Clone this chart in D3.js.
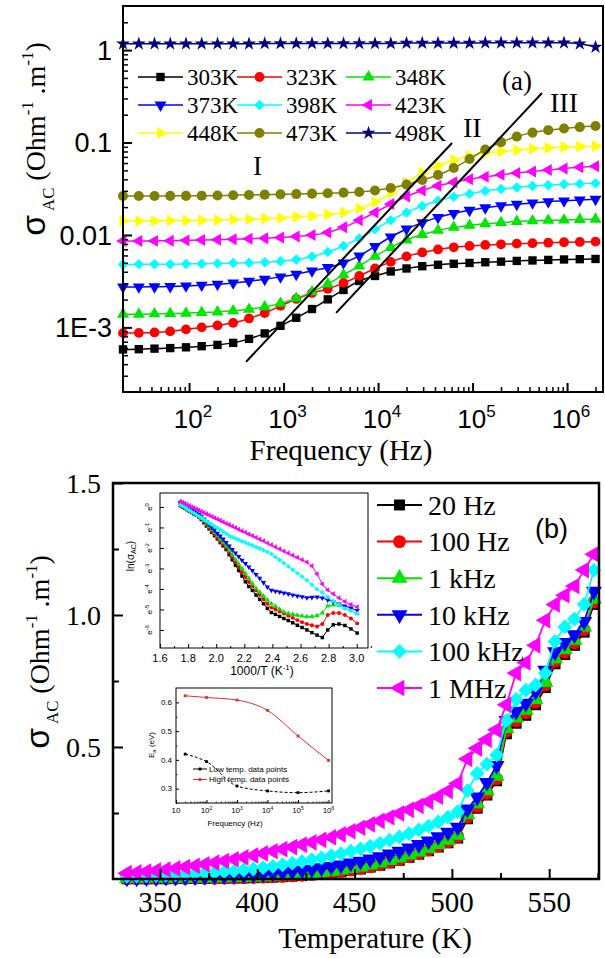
<!DOCTYPE html>
<html>
<head>
	<meta charset="utf-8">
	<title>sigma AC</title>
	<script src="https://d3js.org/d3.v7.min.js"></script>
	<style>
		body { margin: 0; background: #fff; }
		svg { display: block; }
	</style>
</head>
<body>
	<div class="chart"></div>
	<script type="text/javascript">

		/**
		 * (a) sigma_AC against frequency, nine temperatures
		 */
		var freqHz = [20, 29.4, 43.1, 63.2, 92.8, 136, 200, 293, 431, 632, 928, 1362, 2000, 2936, 4309, 6325, 9283, 13627, 20000, 29356, 43088, 63246, 92832, 136260, 200000, 293560, 430887, 632456, 928318, 1362600, 2000000]
		var tempNames = ['303K', '323K', '348K', '373K', '398K', '423K', '448K', '473K', '498K']
		var s303 = [5.78e-4, 5.81e-4, 5.89e-4, 5.97e-4, 6.09e-4, 6.26e-4, 6.47e-4, 6.80e-4, 7.51e-4, 8.61e-4, 1.04e-3, 1.27e-3, 1.58e-3, 2.01e-3, 2.54e-3, 3.18e-3, 3.60e-3, 4.03e-3, 4.34e-3, 4.59e-3, 4.76e-3, 4.88e-3, 4.98e-3, 5.07e-3, 5.14e-3, 5.24e-3, 5.30e-3, 5.37e-3, 5.43e-3, 5.47e-3, 5.50e-3]
		var s323 = [8.66e-4, 8.72e-4, 8.81e-4, 9.05e-4, 9.51e-4, 1.00e-3, 1.05e-3, 1.12e-3, 1.25e-3, 1.43e-3, 1.71e-3, 2.03e-3, 2.36e-3, 2.61e-3, 3.03e-3, 3.60e-3, 4.34e-3, 5.11e-3, 5.86e-3, 6.47e-3, 6.97e-3, 7.36e-3, 7.60e-3, 7.80e-3, 7.93e-3, 8.05e-3, 8.15e-3, 8.25e-3, 8.34e-3, 8.40e-3, 8.47e-3]
		var s348 = [1.39e-3, 1.39e-3, 1.40e-3, 1.41e-3, 1.42e-3, 1.45e-3, 1.47e-3, 1.51e-3, 1.57e-3, 1.67e-3, 1.82e-3, 2.06e-3, 2.42e-3, 2.95e-3, 3.70e-3, 4.62e-3, 5.86e-3, 7.33e-3, 8.83e-3, 1.01e-2, 1.12e-2, 1.21e-2, 1.27e-2, 1.32e-2, 1.36e-2, 1.40e-2, 1.42e-2, 1.44e-2, 1.45e-2, 1.47e-2, 1.48e-2]
		var s373 = [2.74e-3, 2.74e-3, 2.75e-3, 2.77e-3, 2.81e-3, 2.86e-3, 2.93e-3, 3.03e-3, 3.16e-3, 3.32e-3, 3.52e-3, 3.76e-3, 4.08e-3, 4.45e-3, 4.98e-3, 5.93e-3, 7.51e-3, 9.51e-3, 1.16e-2, 1.36e-2, 1.55e-2, 1.71e-2, 1.85e-2, 1.97e-2, 2.07e-2, 2.15e-2, 2.22e-2, 2.29e-2, 2.34e-2, 2.39e-2, 2.43e-2]
		var s398 = [4.80e-3, 4.81e-3, 4.82e-3, 4.83e-3, 4.86e-3, 4.88e-3, 4.92e-3, 4.96e-3, 5.00e-3, 5.08e-3, 5.21e-3, 5.43e-3, 5.86e-3, 6.55e-3, 7.60e-3, 9.17e-3, 1.15e-2, 1.44e-2, 1.75e-2, 2.06e-2, 2.34e-2, 2.59e-2, 2.80e-2, 2.99e-2, 3.14e-2, 3.27e-2, 3.38e-2, 3.46e-2, 3.53e-2, 3.59e-2, 3.62e-2]
		var s423 = [8.61e-3, 8.61e-3, 8.63e-3, 8.67e-3, 8.74e-3, 8.81e-3, 8.89e-3, 8.98e-3, 9.10e-3, 9.23e-3, 9.40e-3, 9.64e-3, 1.00e-2, 1.06e-2, 1.21e-2, 1.44e-2, 1.75e-2, 2.16e-2, 2.61e-2, 3.03e-2, 3.40e-2, 3.72e-2, 4.01e-2, 4.26e-2, 4.49e-2, 4.68e-2, 4.86e-2, 5.04e-2, 5.24e-2, 5.39e-2, 5.53e-2]
		var s448 = [1.42e-2, 1.42e-2, 1.42e-2, 1.43e-2, 1.43e-2, 1.44e-2, 1.45e-2, 1.47e-2, 1.48e-2, 1.51e-2, 1.53e-2, 1.57e-2, 1.60e-2, 1.67e-2, 1.75e-2, 1.93e-2, 2.27e-2, 2.85e-2, 3.70e-2, 4.68e-2, 5.64e-2, 6.47e-2, 7.14e-2, 7.64e-2, 7.99e-2, 8.30e-2, 8.55e-2, 8.77e-2, 8.94e-2, 9.08e-2, 9.17e-2]
		var s473 = [2.64e-2, 2.64e-2, 2.64e-2, 2.65e-2, 2.65e-2, 2.66e-2, 2.67e-2, 2.69e-2, 2.71e-2, 2.73e-2, 2.75e-2, 2.77e-2, 2.80e-2, 2.83e-2, 2.87e-2, 2.92e-2, 3.03e-2, 3.22e-2, 3.51e-2, 3.93e-2, 4.45e-2, 5.30e-2, 6.64e-2, 8.40e-2, 0.101, 0.116, 0.128, 0.136, 0.142, 0.147, 0.151]
		var s498 = [1.17, 1.17, 1.17, 1.17, 1.17, 1.17, 1.17, 1.17, 1.17, 1.18, 1.18, 1.18, 1.18, 1.18, 1.18, 1.18, 1.18, 1.18, 1.19, 1.19, 1.19, 1.19, 1.19, 1.20, 1.20, 1.20, 1.20, 1.20, 1.20, 1.17, 1.08]
		// the two slope guides, end points in (Hz, sigma)
		var guideI = [[401, 4.24e-4], [60700, 0.0988]]
		var guideII = [[3600, 1.435e-3], [543000, 0.343]]
		var yTicksA = [1e-3, 1e-2, 0.1, 1]
		var yTickLabelsA = ['1E-3', '0.01', '0.1', '1']
		var xTicksA = [1e2, 1e3, 1e4, 1e5, 1e6]

		/**
		 * (b) sigma_AC against temperature, six frequencies
		 */
		var tempK = [333, 338, 343, 348, 353, 358, 363, 368, 373, 378, 383, 388, 393, 398, 403, 408, 413, 418, 423, 428, 433, 438, 443, 448, 453, 458, 463, 468, 473, 478, 483, 488, 493, 498, 503, 508, 513, 518, 523, 528, 533, 538, 543, 548, 553, 558, 563, 568, 573]
		var freqNames = ['20 Hz', '100 Hz', '1 kHz', '10 kHz', '100 kHz', '1 MHz']
		var f20 = [0.001, 0.001, 0.001, 0.001, 0.001, 0.002, 0.002, 0.002, 0.002, 0.003, 0.003, 0.004, 0.004, 0.005, 0.006, 0.007, 0.009, 0.011, 0.013, 0.016, 0.019, 0.023, 0.027, 0.032, 0.038, 0.045, 0.052, 0.061, 0.071, 0.082, 0.094, 0.107, 0.121, 0.137, 0.155, 0.228, 0.268, 0.318, 0.372, 0.55, 0.59, 0.62, 0.66, 0.725, 0.815, 0.85, 0.885, 0.935, 1.04]
		var f100 = [0.001, 0.001, 0.001, 0.002, 0.002, 0.002, 0.002, 0.003, 0.003, 0.003, 0.004, 0.004, 0.005, 0.006, 0.007, 0.008, 0.010, 0.012, 0.014, 0.017, 0.020, 0.024, 0.029, 0.034, 0.040, 0.047, 0.055, 0.064, 0.074, 0.085, 0.097, 0.110, 0.125, 0.141, 0.160, 0.235, 0.275, 0.325, 0.38, 0.56, 0.60, 0.63, 0.67, 0.735, 0.825, 0.86, 0.895, 0.945, 1.05]
		var f1k = [0.002, 0.002, 0.002, 0.003, 0.003, 0.003, 0.003, 0.004, 0.004, 0.005, 0.005, 0.006, 0.007, 0.008, 0.009, 0.011, 0.013, 0.015, 0.018, 0.021, 0.025, 0.029, 0.034, 0.040, 0.046, 0.053, 0.061, 0.070, 0.080, 0.091, 0.103, 0.116, 0.131, 0.147, 0.166, 0.245, 0.285, 0.335, 0.39, 0.57, 0.61, 0.64, 0.68, 0.745, 0.835, 0.87, 0.905, 0.955, 1.06]
		var f10k = [0.004, 0.004, 0.005, 0.005, 0.006, 0.006, 0.007, 0.008, 0.009, 0.010, 0.011, 0.013, 0.015, 0.017, 0.019, 0.022, 0.025, 0.029, 0.033, 0.037, 0.042, 0.047, 0.053, 0.060, 0.067, 0.075, 0.084, 0.094, 0.105, 0.117, 0.130, 0.144, 0.160, 0.177, 0.196, 0.265, 0.31, 0.365, 0.43, 0.60, 0.635, 0.665, 0.71, 0.79, 0.86, 0.895, 0.925, 0.975, 1.09]
		var f100k = [0.010, 0.011, 0.012, 0.013, 0.014, 0.016, 0.018, 0.020, 0.022, 0.024, 0.027, 0.030, 0.034, 0.038, 0.043, 0.048, 0.054, 0.060, 0.066, 0.073, 0.080, 0.088, 0.096, 0.105, 0.114, 0.124, 0.135, 0.147, 0.159, 0.172, 0.186, 0.200, 0.216, 0.234, 0.255, 0.335, 0.40, 0.435, 0.47, 0.60, 0.68, 0.715, 0.735, 0.78, 0.90, 0.955, 0.985, 1.04, 1.17]
		var f1M = [0.022, 0.025, 0.028, 0.032, 0.036, 0.040, 0.045, 0.050, 0.056, 0.062, 0.068, 0.075, 0.082, 0.089, 0.097, 0.105, 0.113, 0.121, 0.130, 0.139, 0.148, 0.158, 0.169, 0.181, 0.194, 0.207, 0.220, 0.234, 0.248, 0.262, 0.277, 0.293, 0.312, 0.333, 0.362, 0.455, 0.495, 0.528, 0.565, 0.66, 0.78, 0.82, 0.885, 0.98, 1.04, 1.075, 1.11, 1.17, 1.23]
		var xTicksB = [350, 400, 450, 500, 550]
		var yTicksB = [0.5, 1.0, 1.5]
		var yTickLabelsB = ['0.5', '1.0', '1.5']

		// upper inset: ln(sigma_AC) against 1000/T, same temperatures as tempK
		var ln20 = [-6.15, -5.95, -5.78, -5.71, -5.75, -6.00, -6.37, -6.25, -6.13, -6.00, -5.88, -5.77, -5.65, -5.54, -5.44, -5.34, -5.24, -5.15, -4.95, -4.72, -4.51, -4.30, -4.07, -3.88, -3.65, -3.37, -3.10, -2.84, -2.58, -2.33, -2.08, -1.90, -1.74, -1.56, -1.40, -1.24, -1.07, -0.93, -0.77, -0.61, -0.49, -0.41, -0.34, -0.27, -0.20, -0.13, -0.06, 0.00, 0.06]
		var ln100 = [-5.68, -5.44, -5.27, -5.17, -5.17, -5.27, -5.71, -5.83, -5.77, -5.71, -5.62, -5.52, -5.41, -5.31, -5.20, -5.10, -5.00, -4.91, -4.72, -4.50, -4.28, -4.07, -3.86, -3.66, -3.42, -3.17, -2.93, -2.68, -2.44, -2.21, -1.98, -1.82, -1.66, -1.49, -1.33, -1.18, -1.01, -0.87, -0.72, -0.57, -0.44, -0.38, -0.31, -0.24, -0.17, -0.11, -0.04, 0.01, 0.07]
		var ln1k = [-5.20, -5.05, -4.93, -4.80, -4.78, -4.83, -5.17, -5.30, -5.34, -5.36, -5.32, -5.28, -5.24, -5.20, -5.12, -4.99, -4.85, -4.72, -4.54, -4.34, -4.16, -3.98, -3.74, -3.48, -3.24, -3.00, -2.78, -2.56, -2.33, -2.12, -1.90, -1.73, -1.57, -1.40, -1.25, -1.10, -0.95, -0.81, -0.66, -0.51, -0.39, -0.32, -0.25, -0.18, -0.12, -0.05, 0.01, 0.06, 0.12]
		var ln10k = [-5.05, -4.93, -4.83, -4.73, -4.63, -4.54, -4.44, -4.39, -4.41, -4.43, -4.38, -4.34, -4.29, -4.24, -4.20, -4.15, -4.11, -4.06, -3.90, -3.69, -3.48, -3.29, -3.10, -2.93, -2.76, -2.60, -2.42, -2.25, -2.08, -1.90, -1.73, -1.57, -1.42, -1.28, -1.13, -1.00, -0.85, -0.72, -0.59, -0.46, -0.37, -0.30, -0.23, -0.17, -0.10, -0.04, 0.03, 0.09, 0.15]
		var ln100k = [-5.20, -5.07, -4.95, -4.77, -4.59, -4.39, -4.17, -4.01, -3.80, -3.58, -3.40, -3.23, -3.06, -2.90, -2.74, -2.59, -2.44, -2.29, -2.19, -2.11, -2.03, -1.96, -1.88, -1.81, -1.74, -1.67, -1.61, -1.54, -1.48, -1.40, -1.30, -1.21, -1.12, -1.03, -0.95, -0.86, -0.78, -0.70, -0.61, -0.53, -0.45, -0.38, -0.30, -0.23, -0.16, -0.09, -0.01, 0.05, 0.11]
		var ln1M = [-4.88, -4.76, -4.61, -4.44, -4.24, -4.05, -3.76, -3.27, -2.88, -2.69, -2.58, -2.46, -2.36, -2.25, -2.15, -2.05, -1.95, -1.85, -1.76, -1.66, -1.58, -1.49, -1.40, -1.33, -1.24, -1.17, -1.09, -1.01, -0.94, -0.86, -0.80, -0.73, -0.66, -0.59, -0.53, -0.46, -0.40, -0.34, -0.28, -0.22, -0.16, -0.11, -0.05, 0.00, 0.06, 0.11, 0.17, 0.22, 0.27]
		var invTTicks = [1.6, 1.8, 2.0, 2.2, 2.4, 2.6, 2.8, 3.0]
		var lnTicks = [0, -1, -2, -3, -4, -5, -6]

		// lower inset: activation energy against frequency
		var eaFreq = [20, 100, 1000, 10000, 100000, 1000000]
		var eaLow = [0.42, 0.394, 0.309, 0.292, 0.286, 0.292]
		var eaHigh = [0.623, 0.617, 0.608, 0.572, 0.483, 0.398]
		var eaNames = ['Low temp. data points', 'High temp. data points']
		var eaYTicks = [0.3, 0.4, 0.5, 0.6]

		/**
		 * canvas and helpers
		 */
		var width = 605
		var height = 958
		var serif = '"Liberation Serif", "Times New Roman", serif'
		var sans = '"Liberation Sans", Arial, sans-serif'

		var svg = d3
			.select('.chart')
			.append('svg')
			.attr('width', width)
			.attr('height', height)
			.style('background-color', '#fff')

		var symbolTypes = { square: d3.symbolSquare, circle: d3.symbolCircle, up: d3.symbolTriangle, down: d3.symbolTriangle, left: d3.symbolTriangle, right: d3.symbolTriangle, diamond: d3.symbolSquare, star: d3.symbolStar }
		var symbolTurn = { square: 0, circle: 0, up: 0, down: 180, left: -90, right: 90, diamond: 45, star: 0 }

		function drawMarkers(g, pts, kind, size, color) {
			var p = d3.symbol().type(symbolTypes[kind]).size(size)()
			g.selectAll(null)
				.data(pts)
				.enter()
				.append('path')
				.attr('d', p)
				.attr('fill', color)
				.attr('transform', (d) => `translate(${d[0]},${d[1]}) rotate(${symbolTurn[kind]})`)
		}

		function tickAxis(g, axis, transform, w) {
			g.append('g')
				.attr('transform', transform)
				.call(axis)
				.call((s) => s.select('.domain').remove())
				.call((s) => s.selectAll('text').remove())
				.call((s) => s.selectAll('line').attr('stroke', '#000').attr('stroke-width', w))
		}

		function logMinors(lo, hi) {
			var out = []
			for (var k = -5; k <= 7; k++) {
				for (var m = 2; m <= 9; m++) {
					var v = m * Math.pow(10, k)
					if (v > lo * 1.0001 && v < hi * 0.9999) out.push(v)
				}
			}
			return out
		}

		function sigmaTitle(x, y, size) {
			var t = svg.append('text')
				.attr('transform', `translate(${x},${y}) rotate(-90)`)
				.attr('text-anchor', 'middle')
				.attr('font-family', serif)
				.attr('font-size', size)
			t.append('tspan').attr('font-family', sans).attr('font-size', size * 1.2).text('σ')
			t.append('tspan').attr('font-size', size * 0.6).attr('dx', 4).attr('dy', size * 0.32).text('AC')
			t.append('tspan').attr('dy', -size * 0.32).text(' (Ohm')
			t.append('tspan').attr('font-size', size * 0.6).attr('dy', -size * 0.42).text('-1')
			t.append('tspan').attr('dy', size * 0.42).text(' .m')
			t.append('tspan').attr('font-size', size * 0.6).attr('dy', -size * 0.42).text('-1')
			t.append('tspan').attr('dy', size * 0.42).text(')')
		}

		/**
		 * panel (a)
		 */
		var A = { left: 123, right: 603, top: 6, bottom: 392 }
		var xA = d3.scaleLog().domain([20, 2.4e6]).range([A.left, A.right])
		var yA = d3.scaleLog().domain([2e-4, 3]).range([A.bottom, A.top])
		var gA = svg.append('g')

		var seriesA = [s303, s323, s348, s373, s398, s423, s448, s473, s498]
		var colorsA = ['#000000', '#ff0000', '#00e600', '#0000ff', '#00ffff', '#ff00ff', '#ffff00', '#808000', '#000080']
		var markA = ['square', 'circle', 'up', 'down', 'diamond', 'left', 'right', 'circle', 'star']
		var sizeA = [70, 75, 62, 62, 55, 62, 62, 80, 60]

		var lineA = d3.line().curve(d3.curveMonotoneX).x((d) => xA(d[0])).y((d) => yA(d[1]))

		seriesA.forEach(function (vals, i) {
			var pts = d3.zip(freqHz, vals)
			gA.append('path')
				.attr('d', lineA(pts))
				.attr('fill', 'none')
				.attr('stroke', colorsA[i])
				.attr('stroke-width', 1.5)
			drawMarkers(gA, pts.map((p) => [xA(p[0]), yA(p[1])]), markA[i], sizeA[i], colorsA[i])
		})

		// slope guides
		var straight = d3.line().x((d) => xA(d[0])).y((d) => yA(d[1]))
		;[guideI, guideII].forEach(function (g) {
			gA.append('path').attr('d', straight(g)).attr('stroke', '#000').attr('stroke-width', 2).attr('fill', 'none')
		})

		// frame and ticks
		gA.append('rect')
			.attr('x', A.left).attr('y', A.top)
			.attr('width', A.right - A.left).attr('height', A.bottom - A.top)
			.attr('fill', 'none').attr('stroke', '#000').attr('stroke-width', 2)

		tickAxis(gA, d3.axisBottom(xA).tickValues(xTicksA).tickSize(-9), `translate(0,${A.bottom})`, 2)
		tickAxis(gA, d3.axisBottom(xA).tickValues(logMinors(20, 2.4e6).filter((v) => xTicksA.indexOf(v) < 0)).tickSize(-5), `translate(0,${A.bottom})`, 1.5)
		tickAxis(gA, d3.axisLeft(yA).tickValues(yTicksA).tickSize(-9), `translate(${A.left},0)`, 2)
		tickAxis(gA, d3.axisLeft(yA).tickValues(logMinors(2e-4, 3)).tickSize(-5), `translate(${A.left},0)`, 1.5)

		gA.selectAll(null)
			.data(yTicksA)
			.enter()
			.append('text')
			.attr('x', A.left - 11)
			.attr('y', (d) => yA(d))
			.attr('dy', '0.36em')
			.attr('text-anchor', 'end')
			.attr('font-family', sans)
			.attr('font-size', 27)
			.text((d, i) => yTickLabelsA[i])

		xTicksA.forEach(function (v) {
			var t = gA.append('text')
				.attr('x', xA(v) + 4)
				.attr('y', 428)
				.attr('text-anchor', 'middle')
				.attr('font-family', sans)
				.attr('font-size', 26)
			t.append('tspan').text('10')
			t.append('tspan').attr('font-size', 17).attr('dy', -11).text(Math.round(Math.log10(v)))
		})

		gA.append('text')
			.attr('x', 341).attr('y', 460)
			.attr('text-anchor', 'middle')
			.attr('font-family', serif).attr('font-size', 29)
			.text('Frequency (Hz)')

		sigmaTitle(45, 139, 28)

		// legend, three per row
		var legX = [138, 237, 346]
		var legY = [77, 105, 133]
		tempNames.forEach(function (name, i) {
			var cx = legX[i % 3]
			var cy = legY[Math.floor(i / 3)]
			gA.append('line').attr('x1', cx).attr('x2', cx + 45).attr('y1', cy).attr('y2', cy)
				.attr('stroke', colorsA[i]).attr('stroke-width', 1.5)
			drawMarkers(gA, [[cx + 22.5, cy]], markA[i], sizeA[i], colorsA[i])
			gA.append('text').attr('x', cx + 49).attr('y', cy).attr('dy', '0.35em')
				.attr('font-family', serif).attr('font-size', 23).text(name)
		})

		var notes = [['I', 253, 175, 27], ['II', 463, 137, 28], ['III', 550, 112, 28], ['(a)', 502, 90, 27]]
		notes.forEach(function (n) {
			gA.append('text').attr('x', n[1]).attr('y', n[2])
				.attr('font-family', serif).attr('font-size', n[3]).text(n[0])
		})

		/**
		 * panel (b)
		 */
		var B = { left: 113, right: 599, top: 483, bottom: 879 }
		var xB = d3.scaleLinear().domain([325.85, 575.6]).range([B.left, B.right])
		var yB = d3.scaleLinear().domain([0, 1.5]).range([B.bottom, B.top])
		var gB = svg.append('g')

		var seriesB = [f20, f100, f1k, f10k, f100k, f1M]
		var colorsB = ['#000000', '#ff0000', '#00e600', '#0000ff', '#00ffff', '#ff00ff']
		var markB = ['square', 'circle', 'up', 'down', 'diamond', 'left']
		var sizeB = [120, 130, 110, 110, 110, 120]

		var lineB = d3.line().x((d) => xB(d[0])).y((d) => yB(d[1]))
		seriesB.forEach(function (vals, i) {
			var pts = d3.zip(tempK, vals)
			gB.append('path').attr('d', lineB(pts)).attr('fill', 'none')
				.attr('stroke', colorsB[i]).attr('stroke-width', 1.8)
			drawMarkers(gB, pts.map((p) => [xB(p[0]), yB(p[1])]), markB[i], sizeB[i], colorsB[i])
		})

		gB.append('rect')
			.attr('x', B.left).attr('y', B.top)
			.attr('width', B.right - B.left).attr('height', B.bottom - B.top)
			.attr('fill', 'none').attr('stroke', '#000').attr('stroke-width', 2.5)

		tickAxis(gB, d3.axisBottom(xB).tickValues(xTicksB).tickSize(-10), `translate(0,${B.bottom})`, 2)
		tickAxis(gB, d3.axisBottom(xB).tickValues(xTicksB.map((v) => v + 25)).tickSize(-6), `translate(0,${B.bottom})`, 2)
		tickAxis(gB, d3.axisLeft(yB).tickValues(yTicksB).tickSize(-10), `translate(${B.left},0)`, 2)
		tickAxis(gB, d3.axisLeft(yB).tickValues(yTicksB.map((v) => v - 0.25)).tickSize(-6), `translate(${B.left},0)`, 2)

		gB.selectAll(null).data(xTicksB).enter().append('text')
			.attr('x', (d) => xB(d)).attr('y', 912)
			.attr('text-anchor', 'middle')
			.attr('font-family', serif).attr('font-size', 29)
			.text((d) => d)

		gB.selectAll(null).data(yTicksB).enter().append('text')
			.attr('x', B.left - 12).attr('y', (d) => yB(d)).attr('dy', '0.35em')
			.attr('text-anchor', 'end')
			.attr('font-family', serif).attr('font-size', 28)
			.text((d, i) => yTickLabelsB[i])

		gB.append('text')
			.attr('x', 375).attr('y', 948)
			.attr('text-anchor', 'middle')
			.attr('font-family', serif).attr('font-size', 29)
			.text('Temperature (K)')

		sigmaTitle(49, 652, 28)

		freqNames.forEach(function (name, i) {
			var cy = 505 + i * 36.6
			gB.append('line').attr('x1', 377).attr('x2', 422).attr('y1', cy).attr('y2', cy)
				.attr('stroke', colorsB[i]).attr('stroke-width', 2)
			drawMarkers(gB, [[399.5, cy]], markB[i], sizeB[i], colorsB[i])
			gB.append('text').attr('x', 428).attr('y', cy).attr('dy', '0.35em')
				.attr('font-family', serif).attr('font-size', 28).text(name)
		})

		gB.append('text').attr('x', 535).attr('y', 538)
			.attr('font-family', sans).attr('font-size', 27).text('(b)')

		/**
		 * upper inset: ln(sigma) vs 1000/T
		 */
		var I1 = { left: 160, right: 368, top: 493, bottom: 648 }
		var xI = d3.scaleLinear().domain([1.6, 3.08]).range([I1.left, I1.right])
		var yI = d3.scaleLinear().domain([-6.88, 0.68]).range([I1.bottom, I1.top])
		var gI = svg.append('g')

		gI.append('rect')
			.attr('x', I1.left).attr('y', I1.top)
			.attr('width', I1.right - I1.left).attr('height', I1.bottom - I1.top)
			.attr('fill', '#fff').attr('stroke', 'none')

		var lnSeries = [ln20, ln100, ln1k, ln10k, ln100k, ln1M]
		var lineI = d3.line().x((d) => xI(1000 / d[0])).y((d) => yI(d[1]))
		lnSeries.forEach(function (vals, i) {
			var pts = d3.zip(tempK, vals)
			gI.append('path').attr('d', lineI(pts)).attr('fill', 'none')
				.attr('stroke', colorsB[i]).attr('stroke-width', 1)
			drawMarkers(gI, pts.map((p) => [xI(1000 / p[0]), yI(p[1])]), markB[i], 12, colorsB[i])
		})

		gI.append('rect')
			.attr('x', I1.left).attr('y', I1.top)
			.attr('width', I1.right - I1.left).attr('height', I1.bottom - I1.top)
			.attr('fill', 'none').attr('stroke', '#000').attr('stroke-width', 1)

		tickAxis(gI, d3.axisBottom(xI).tickValues(invTTicks).tickSize(-4), `translate(0,${I1.bottom})`, 1)
		tickAxis(gI, d3.axisBottom(xI).tickValues(invTTicks.map((v) => v + 0.1)).tickSize(-2), `translate(0,${I1.bottom})`, 1)
		tickAxis(gI, d3.axisLeft(yI).tickValues(lnTicks).tickSize(-4), `translate(${I1.left},0)`, 1)

		gI.selectAll(null).data(invTTicks).enter().append('text')
			.attr('x', (d) => xI(d)).attr('y', 662)
			.attr('text-anchor', 'middle')
			.attr('font-family', sans).attr('font-size', 11)
			.text((d) => d.toFixed(1))

		var invTitle = gI.append('text').attr('x', 262).attr('y', 675)
			.attr('text-anchor', 'middle').attr('font-family', sans).attr('font-size', 12)
		invTitle.append('tspan').text('1000/T (K')
		invTitle.append('tspan').attr('font-size', 8).attr('dy', -5).text('-1')
		invTitle.append('tspan').attr('dy', 5).text(')')

		lnTicks.forEach(function (v) {
			var t = gI.append('text')
				.attr('transform', `translate(${I1.left - 8},${yI(v)}) rotate(-90)`)
				.attr('text-anchor', 'middle')
				.attr('font-family', sans).attr('font-size', 8)
			t.append('tspan').text('e')
			t.append('tspan').attr('font-size', 6).attr('dy', -3).text(v)
		})

		var lnTitle = gI.append('text')
			.attr('transform', 'translate(134,556) rotate(-90)')
			.attr('text-anchor', 'middle').attr('font-family', sans).attr('font-size', 10)
		lnTitle.append('tspan').text('ln(σ')
		lnTitle.append('tspan').attr('font-size', 7).attr('dy', 2).text('AC')
		lnTitle.append('tspan').attr('dy', -2).text(')')

		/**
		 * lower inset: activation energy
		 */
		var I2 = { left: 176, right: 332, top: 688, bottom: 803 }
		var xE = d3.scaleLog().domain([10, 1.3e6]).range([I2.left, I2.right])
		var yE = d3.scaleLinear().domain([0.25, 0.65]).range([I2.bottom, I2.top])
		var gE = svg.append('g')

		gE.append('rect')
			.attr('x', I2.left).attr('y', I2.top)
			.attr('width', I2.right - I2.left).attr('height', I2.bottom - I2.top)
			.attr('fill', '#fff').attr('stroke', '#000').attr('stroke-width', 1)

		var lineE = d3.line().curve(d3.curveMonotoneX).x((d) => xE(d[0])).y((d) => yE(d[1]))
		var eaSets = [eaLow, eaHigh]
		var eaColors = ['#000000', '#e03030']
		eaSets.forEach(function (vals, i) {
			var pts = d3.zip(eaFreq, vals)
			gE.append('path').attr('d', lineE(pts)).attr('fill', 'none')
				.attr('stroke', eaColors[i]).attr('stroke-width', 1)
				.attr('stroke-dasharray', i === 0 ? '3,2' : null)
			drawMarkers(gE, pts.map((p) => [xE(p[0]), yE(p[1])]), 'square', 8, eaColors[i])
		})

		var eaDecades = [10, 1e2, 1e3, 1e4, 1e5, 1e6]
		tickAxis(gE, d3.axisBottom(xE).tickValues(eaDecades).tickSize(-3), `translate(0,${I2.bottom})`, 1)
		tickAxis(gE, d3.axisBottom(xE).tickValues(logMinors(10, 1.3e6).filter((v) => eaDecades.indexOf(v) < 0)).tickSize(-1.5), `translate(0,${I2.bottom})`, 0.8)
		tickAxis(gE, d3.axisLeft(yE).tickValues(eaYTicks).tickSize(-3), `translate(${I2.left},0)`, 1)
		tickAxis(gE, d3.axisLeft(yE).tickValues(eaYTicks.map((v) => v - 0.05)).tickSize(-1.5), `translate(${I2.left},0)`, 0.8)

		eaDecades.forEach(function (v, i) {
			var t = gE.append('text').attr('x', xE(v)).attr('y', 813)
				.attr('text-anchor', 'middle').attr('font-family', sans).attr('font-size', 8)
			t.append('tspan').text('10')
			if (i > 0) t.append('tspan').attr('font-size', 5).attr('dy', -3).text(i + 1)
		})

		gE.selectAll(null).data(eaYTicks).enter().append('text')
			.attr('x', I2.left - 4).attr('y', (d) => yE(d)).attr('dy', '0.35em')
			.attr('text-anchor', 'end').attr('font-family', sans).attr('font-size', 8)
			.text((d) => d.toFixed(1))

		gE.append('text').attr('x', 235).attr('y', 826)
			.attr('text-anchor', 'middle').attr('font-family', sans).attr('font-size', 8)
			.text('Frequency (Hz)')

		var eaTitle = gE.append('text')
			.attr('transform', 'translate(154,745) rotate(-90)')
			.attr('text-anchor', 'middle').attr('font-family', sans).attr('font-size', 8)
		eaTitle.append('tspan').text('E')
		eaTitle.append('tspan').attr('font-size', 6).attr('dy', 2).text('a')
		eaTitle.append('tspan').attr('dy', -2).text(' (eV)')

		eaNames.forEach(function (name, i) {
			var cy = 769 + i * 10.5
			gE.append('line').attr('x1', 193).attr('x2', 207).attr('y1', cy).attr('y2', cy)
				.attr('stroke', eaColors[i]).attr('stroke-width', 1)
			drawMarkers(gE, [[200, cy]], 'square', 8, eaColors[i])
			gE.append('text').attr('x', 209).attr('y', cy).attr('dy', '0.35em')
				.attr('font-family', sans).attr('font-size', 8).text(name)
		})

	</script>
</body>
</html>
